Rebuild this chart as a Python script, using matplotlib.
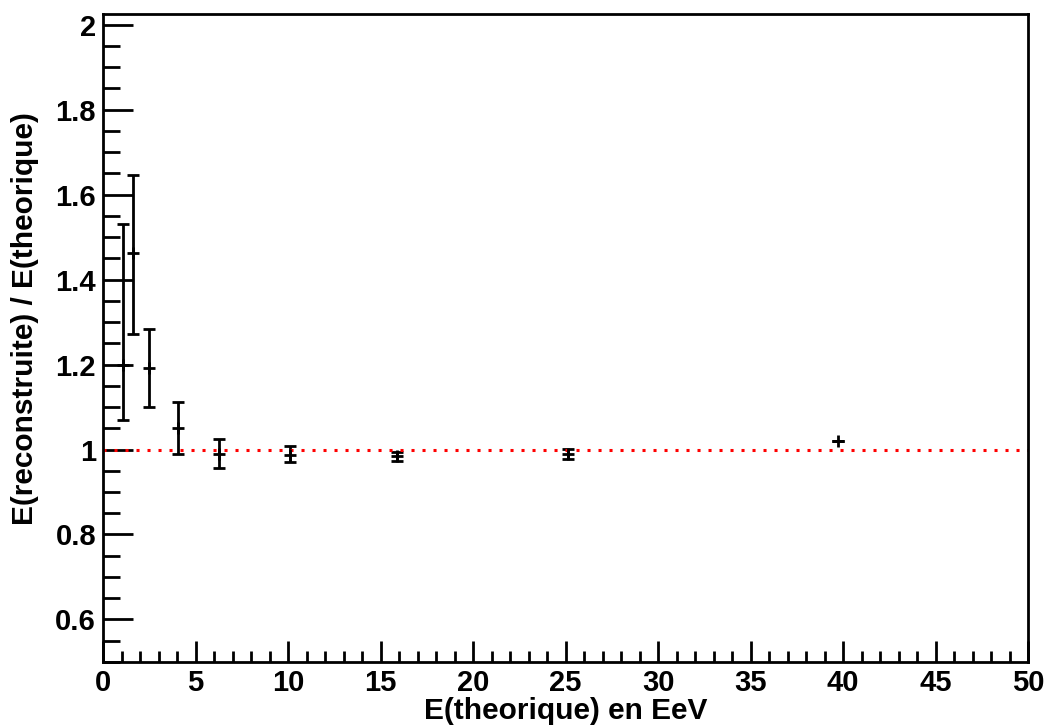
import numpy as np
import matplotlib.pyplot as plt
from matplotlib.ticker import MultipleLocator

# energy (EeV) and reconstructed/theoretical ratio
e_theo = [1.10, 1.64, 2.50, 4.07, 6.29, 10.1, 15.9, 25.15, 39.75]
ratio = [1.198, 1.463, 1.191, 1.051, 0.990, 0.988, 0.984, 0.990, 1.019]
err_low = [0.128, 0.191, 0.091, 0.061, 0.033, 0.018, 0.011, 0.012, 0.0]
err_high = [0.333, 0.184, 0.093, 0.060, 0.035, 0.020, 0.011, 0.012, 0.0]

plt.rcParams['font.family'] = ['Liberation Sans', 'DejaVu Sans']
plt.rcParams['font.weight'] = 'bold'

fig = plt.figure(figsize=(10.44, 7.28), dpi=100)
ax = fig.add_axes([0.0987, 0.0907, 0.8861, 0.8901])

ax.errorbar(e_theo, ratio, yerr=[err_low, err_high], fmt='+', color='black',
            ms=9, mew=2, elinewidth=2, capsize=4.5, capthick=2)
ax.axhline(1.0, color='red', lw=2.2, linestyle=(0, (1, 2.6)))

ax.set_xlim(0, 50)
ax.set_ylim(0.5, 2.025)
ax.xaxis.set_major_locator(MultipleLocator(5))
ax.xaxis.set_minor_locator(MultipleLocator(1))
ax.yaxis.set_minor_locator(MultipleLocator(0.05))
ax.set_yticks(np.arange(0.6, 2.01, 0.2))
ax.set_yticklabels(['0.6', '0.8', '1', '1.2', '1.4', '1.6', '1.8', '2'])

for s in ax.spines.values():
    s.set_linewidth(2)
ax.tick_params(axis='both', which='both', direction='in', width=2,
               top=False, right=False, labelsize=21)
ax.tick_params(axis='y', which='major', length=21.5, pad=5)
ax.tick_params(axis='y', which='minor', length=12)
ax.tick_params(axis='x', which='major', length=15, pad=5)
ax.tick_params(axis='x', which='minor', length=8)

ax.set_xlabel('E(theorique) en EeV', fontsize=21.5, fontweight='bold', labelpad=0)
ax.set_ylabel('E(reconstruite) / E(theorique)', fontsize=21.5, fontweight='bold')
ax.yaxis.set_label_coords(-0.069, 0.53)

fig.savefig('out.png', dpi=100)
